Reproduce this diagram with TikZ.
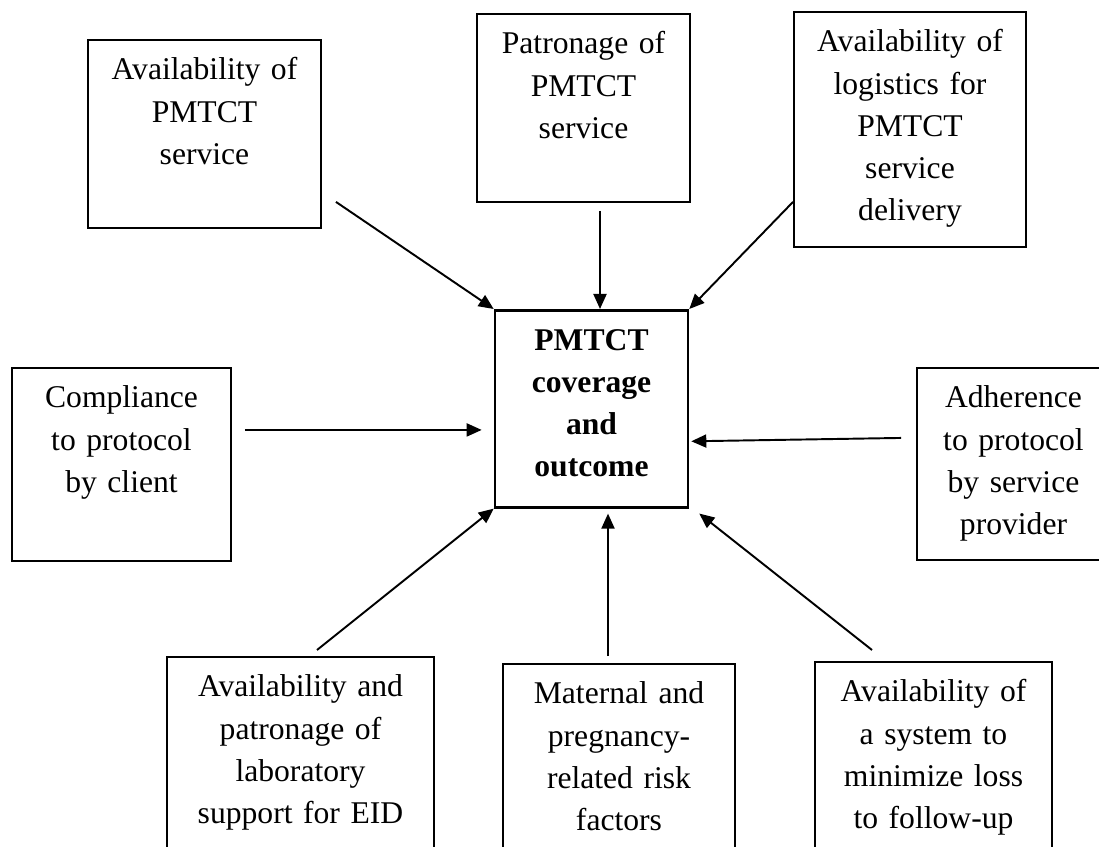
\documentclass[tikz,border=0pt]{standalone}
\usepackage{fontspec}
\setmainfont{Liberation Serif}
\usetikzlibrary{calc,positioning,arrows.meta}
\tikzset{
>={Triangle[length=0.3cm,width=0.26cm]},
  factorbox/.style 2 args={
    rectangle,
    draw=black, line width=1.1pt,
    text width=#1,
    text height=0.8cm,
    text depth=#2,
    inner sep=0pt,
    anchor=north,
    text centered,
    font=\fontsize{18}{24}\selectfont},
  outcomebox/.style={
    factorbox={3.86cm}{3.14cm},
    line width=1.5pt,
    font=\fontsize{18}{24}\selectfont\bfseries},
  line/.style={draw, line width=1.1pt, ->},
}
\begin{document}
\begin{tikzpicture}
[x=0.02cm, y=-0.02cm]
    \useasboundingbox (0,0) rectangle (1099,847);
    \clip (0,0) rectangle (1099,847);

    % centre
    \node [outcomebox] (core) at (591.5,309) {PMTCT\\ coverage\\ and\\ outcome};

    % top row
    \node [factorbox={4.66cm}{2.96cm}] (avail) at (204.5,39) {Availability of\\ PMTCT\\ service};
    \node [factorbox={4.26cm}{2.96cm}] (patron) at (583.5,13) {Patronage of\\ PMTCT\\ service};
    \node [factorbox={4.64cm}{3.9cm}] (logist) at (910,11) {Availability of\\ logistics for\\ PMTCT\\ service\\ delivery};

    % middle row
    \node [factorbox={4.38cm}{3.06cm}] (comply) at (121.5,367) {Compliance\\ to protocol\\ by client};
    \node [factorbox={3.86cm}{3.04cm}] (adhere) at (1013.5,367) {Adherence\\ to protocol\\ by service\\ provider};

    % bottom row
    \node [factorbox={5.34cm}{4cm}] (lab) at (300.5,656) {Availability and\\ patronage of\\ laboratory\\ support for EID};
    \node [factorbox={4.64cm}{4cm}] (risk) at (619,663) {Maternal and\\ pregnancy-\\ related risk\\ factors};
    \node [factorbox={4.74cm}{4cm}] (loss) at (933.5,661) {Availability of\\ a system to\\ minimize loss\\ to follow-up};

    \coordinate (p1) at ($(patron.south)+(16.5,8)$);
    \coordinate (c1) at ($(comply.east)+(13,-34.5)$);
    \coordinate (r1) at ($(risk.north)+(-11,-7)$);

    \draw[line] ($(avail.south east)+(14,-27)$) -- (core.north west);
    \draw[line] (p1) -- (p1 |- core.north);
    \draw[line] ($(logist.south west)+(0,-46)$) -- (core.north east);
    \draw[line, shorten >=0.24cm] (c1) -- (c1 -| core.west);
    \draw[line] ($(adhere.west)+(-15,-26)$) -- ($(core.east)+(2,32.5)$);
    \draw[line] ($(lab.north)+(16.5,-6)$) -- (core.south west);
    \draw[line, shorten >=0.1cm] (r1) -- (r1 |- core.south);
    \draw[line] ($(loss.north)+(-61.5,-11)$) -- ($(core.south east)+(10,5)$);

\end{tikzpicture}
\end{document}
